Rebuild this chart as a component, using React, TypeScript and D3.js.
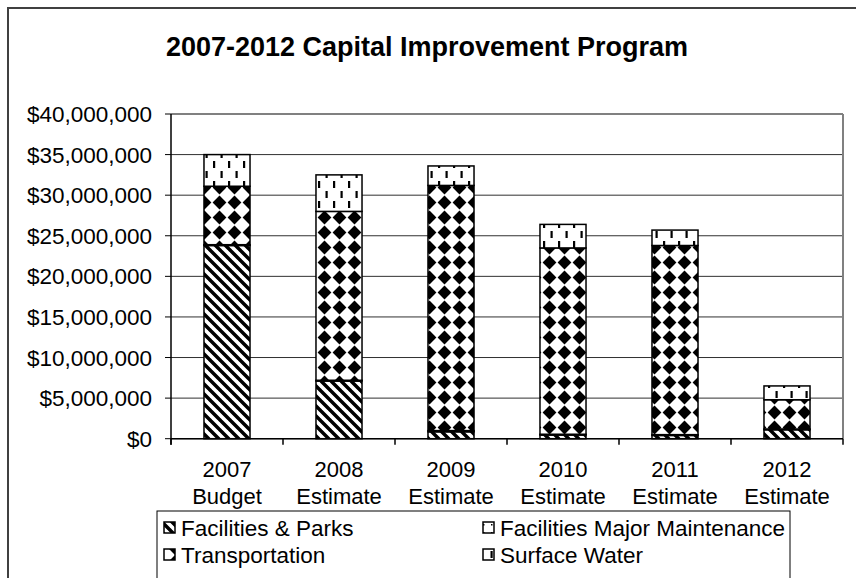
import React from "react";
import * as d3 from "d3";

const categories = ["2007", "2008", "2009", "2010", "2011", "2012"];
const categorySub = ["Budget", "Estimate", "Estimate", "Estimate", "Estimate", "Estimate"];
const seriesNames = ["Facilities & Parks", "Facilities Major Maintenance", "Transportation", "Surface Water"];
const facilitiesParks = [23.8e6, 7.1e6, 0.85e6, 0.45e6, 0.4e6, 1.1e6];
const facilitiesMajorMaint = [0.1e6, 0.1e6, 0.15e6, 0.1e6, 0.1e6, 0.1e6];
const transportation = [7.2e6, 20.8e6, 30.2e6, 22.95e6, 23.3e6, 3.6e6];
const surfaceWater = [3.9e6, 4.5e6, 2.4e6, 2.9e6, 1.9e6, 1.7e6];
const yTicks = [0, 5e6, 10e6, 15e6, 20e6, 25e6, 30e6, 35e6, 40e6];
const title = "2007-2012 Capital Improvement Program";

const patternIds = ["pFP", "pFMM", "pTR", "pSW"];
const FONT = "'Liberation Sans', Arial, sans-serif";

export default function App() {
  const left = 171, right = 843, top = 114, bottom = 438.7;
  const x = d3.scaleBand().domain(categories).range([left, right]).paddingInner(0.589).paddingOuter(0.2945);
  const y = d3.scaleLinear().domain([0, 40e6]).range([bottom, top]);
  const fmt = d3.format("$,");
  const seriesData = [facilitiesParks, facilitiesMajorMaint, transportation, surfaceWater];
  const rows = categories.map((c, i) => {
    const o: any = { cat: c };
    seriesNames.forEach((s, j) => (o[s] = seriesData[j][i]));
    return o;
  });
  const stacked = d3.stack().keys(seriesNames)(rows);
  const step = x.step();
  const boundaries = d3.range(categories.length + 1).map((k) => left + k * step);

  const legendItems = [
    { name: seriesNames[0], idx: 0, col: 0, row: 0 },
    { name: seriesNames[1], idx: 1, col: 1, row: 0 },
    { name: seriesNames[2], idx: 2, col: 0, row: 1 },
    { name: seriesNames[3], idx: 3, col: 1, row: 1 },
  ];
  const legCols = [164, 483];
  const legRows = [528, 555];

  return (
    <svg width={856} height={578} style={{ position: "absolute", left: 0, top: 0, background: "#fff" }}>
      <defs>
        <pattern id="pFP" patternUnits="userSpaceOnUse" width={10} height={10}>
          <rect width={10} height={10} fill="#fff" />
          <path d="M-1,-1 L11,11 M9,-1 L11,1 M-1,9 L1,11" stroke="#000" strokeWidth={3.5} />
        </pattern>
        <pattern id="pFMM" patternUnits="userSpaceOnUse" width={8} height={8}>
          <rect width={8} height={8} fill="#fff" />
          <rect x={3} y={4} width={1.5} height={1.5} fill="#000" />
        </pattern>
        <pattern id="pTR" patternUnits="userSpaceOnUse" width={15} height={15} x={2} y={0}>
          <rect width={15} height={15} fill="#fff" />
          <path d="M7.5,0.6 L14.4,7.5 L7.5,14.4 L0.6,7.5 Z" fill="#000" />
        </pattern>
        <pattern id="pSW" patternUnits="userSpaceOnUse" width={15} height={20}>
          <rect width={15} height={20} fill="#fff" />
          <rect x={3} y={1} width={2.2} height={7} fill="#000" />
          <rect x={10.5} y={11} width={2.2} height={7} fill="#000" />
        </pattern>
      </defs>
      <rect x={0} y={0} width={856} height={578} fill="#fff" />
      <rect x={8} y={8} width={900} height={700} fill="#fff" stroke="#404040" strokeWidth={2} />
      <text x={427} y={56} textAnchor="middle" fontFamily={FONT} fontWeight="bold" fontSize={27} fill="#000">
        {title}
      </text>
      {yTicks.map((t) => (
        <line key={t} x1={left} x2={right} y1={y(t)} y2={y(t)} stroke={t === 40e6 ? "#808080" : "#303030"} strokeWidth={t === 40e6 ? 2 : 1} />
      ))}
      <line x1={right} x2={right} y1={top} y2={bottom} stroke="#808080" strokeWidth={2} />
      {stacked.map((layer, j) => (
        <g key={layer.key}>
          {layer.map((d, i) => (
            <rect
              key={i}
              x={x(categories[i])}
              width={x.bandwidth()}
              y={y(d[1])}
              height={Math.max(0, y(d[0]) - y(d[1]))}
              fill={`url(#${patternIds[j]})`}
              stroke="#000"
              strokeWidth={1.5}
            />
          ))}
        </g>
      ))}
      <line x1={left} x2={left} y1={top} y2={bottom + 6} stroke="#000" strokeWidth={1.5} />
      <line x1={left} x2={right} y1={bottom} y2={bottom} stroke="#000" strokeWidth={1.5} />
      {yTicks.map((t) => (
        <g key={"t" + t}>
          <line x1={left - 6} x2={left} y1={y(t)} y2={y(t)} stroke="#000" strokeWidth={1} />
          <text x={152} y={y(t) + 8} textAnchor="end" fontFamily={FONT} fontSize={22.5} fill="#000">
            {fmt(t)}
          </text>
        </g>
      ))}
      {boundaries.map((b, k) => (
        <line key={"b" + k} x1={b} x2={b} y1={bottom} y2={bottom + 6} stroke="#000" strokeWidth={1.5} />
      ))}
      {categories.map((c, i) => (
        <g key={"c" + c}>
          <text x={x(c)! + x.bandwidth() / 2} y={477} textAnchor="middle" fontFamily={FONT} fontSize={22} fill="#000">
            {c}
          </text>
          <text x={x(c)! + x.bandwidth() / 2} y={504} textAnchor="middle" fontFamily={FONT} fontSize={22} fill="#000">
            {categorySub[i]}
          </text>
        </g>
      ))}
      <rect x={157} y={511} width={633} height={100} fill="#fff" stroke="#000" strokeWidth={1} />
      {legendItems.map((it) => (
        <g key={it.name}>
          <rect x={legCols[it.col]} y={legRows[it.row] - 6} width={11} height={11} fill={`url(#${patternIds[it.idx]})`} stroke="#000" strokeWidth={1.5} />
          <text x={legCols[it.col] + 17} y={legRows[it.row] + 8} fontFamily={FONT} fontSize={22.5} fill="#000">
            {it.name}
          </text>
        </g>
      ))}
    </svg>
  );
}
